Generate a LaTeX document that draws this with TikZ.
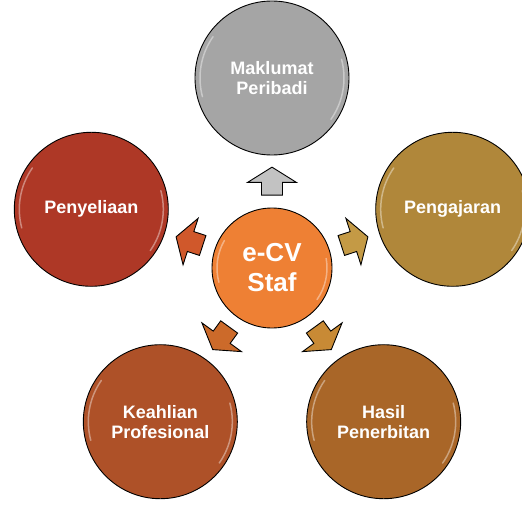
\documentclass[tikz,border=0pt]{standalone}
\usepackage{fontspec}
\setmainfont{Liberation Sans}
\usetikzlibrary{shapes.arrows,calc}

\definecolor{cPribadi}{HTML}{A5A5A5}
\definecolor{cAjar}{HTML}{B0873A}
\definecolor{cSelia}{HTML}{AE3826}
\definecolor{cAhli}{HTML}{AE5128}
\definecolor{cTerbit}{HTML}{A96628}
\definecolor{cEcv}{HTML}{EE8034}
% arrow fills
\definecolor{aPribadi}{HTML}{C2C2C2}
\definecolor{aAjar}{HTML}{C49A45}
\definecolor{aSelia}{HTML}{D0582B}
\definecolor{aAhli}{HTML}{CC6A2A}
\definecolor{aTerbit}{HTML}{C88A35}

\tikzset{
  bulat/.style={circle, draw=black, line width=0.9pt, text=white, align=center,
    inner sep=0pt, font=\bfseries\fontsize{18}{20}\selectfont},
  panah/.style={single arrow, draw=black, line width=0.9pt, inner xsep=0pt, inner ysep=10pt,
    minimum height=28pt, single arrow head extend=14pt, single arrow tip angle=116},
  kilat/.style={white, opacity=0.4, line width=1.5pt, line cap=round}
}

\begin{document}
\begin{tikzpicture}[x=1pt,y=1pt]
\useasboundingbox (-272,-241) rectangle (250,268);

% centre
\node[bulat, fill=cEcv, minimum size=120pt, font=\bfseries\fontsize{26}{30}\selectfont] (ecv) at (0,0) {e-CV\\Staf};
\draw[kilat] (ecv.center) ++(150:55) arc (150:195:55);
\draw[kilat] (ecv.center) ++(-35:55) arc (-35:10:55);

% outer circles and arrows
\foreach \sudut/\nama/\teks in {90/Pribadi/{Maklumat\\Peribadi},
    18/Ajar/Pengajaran, 162/Selia/Penyeliaan,
    234/Ahli/{Keahlian\\Profesional}, 306/Terbit/{Hasil\\Penerbitan}}
{
  \node[bulat, fill=c\nama, minimum size=154pt] (\nama) at (\sudut:190) {\teks};
  \draw[kilat] (\nama.center) ++(145:72) arc (145:195:72);
  \draw[kilat] (\nama.center) ++(-35:72) arc (-35:15:72);
  \node[panah, fill=a\nama, rotate=\sudut] (p\nama) at ($(ecv)!0.44!(\nama)$) {};
}
\end{tikzpicture}
\end{document}
